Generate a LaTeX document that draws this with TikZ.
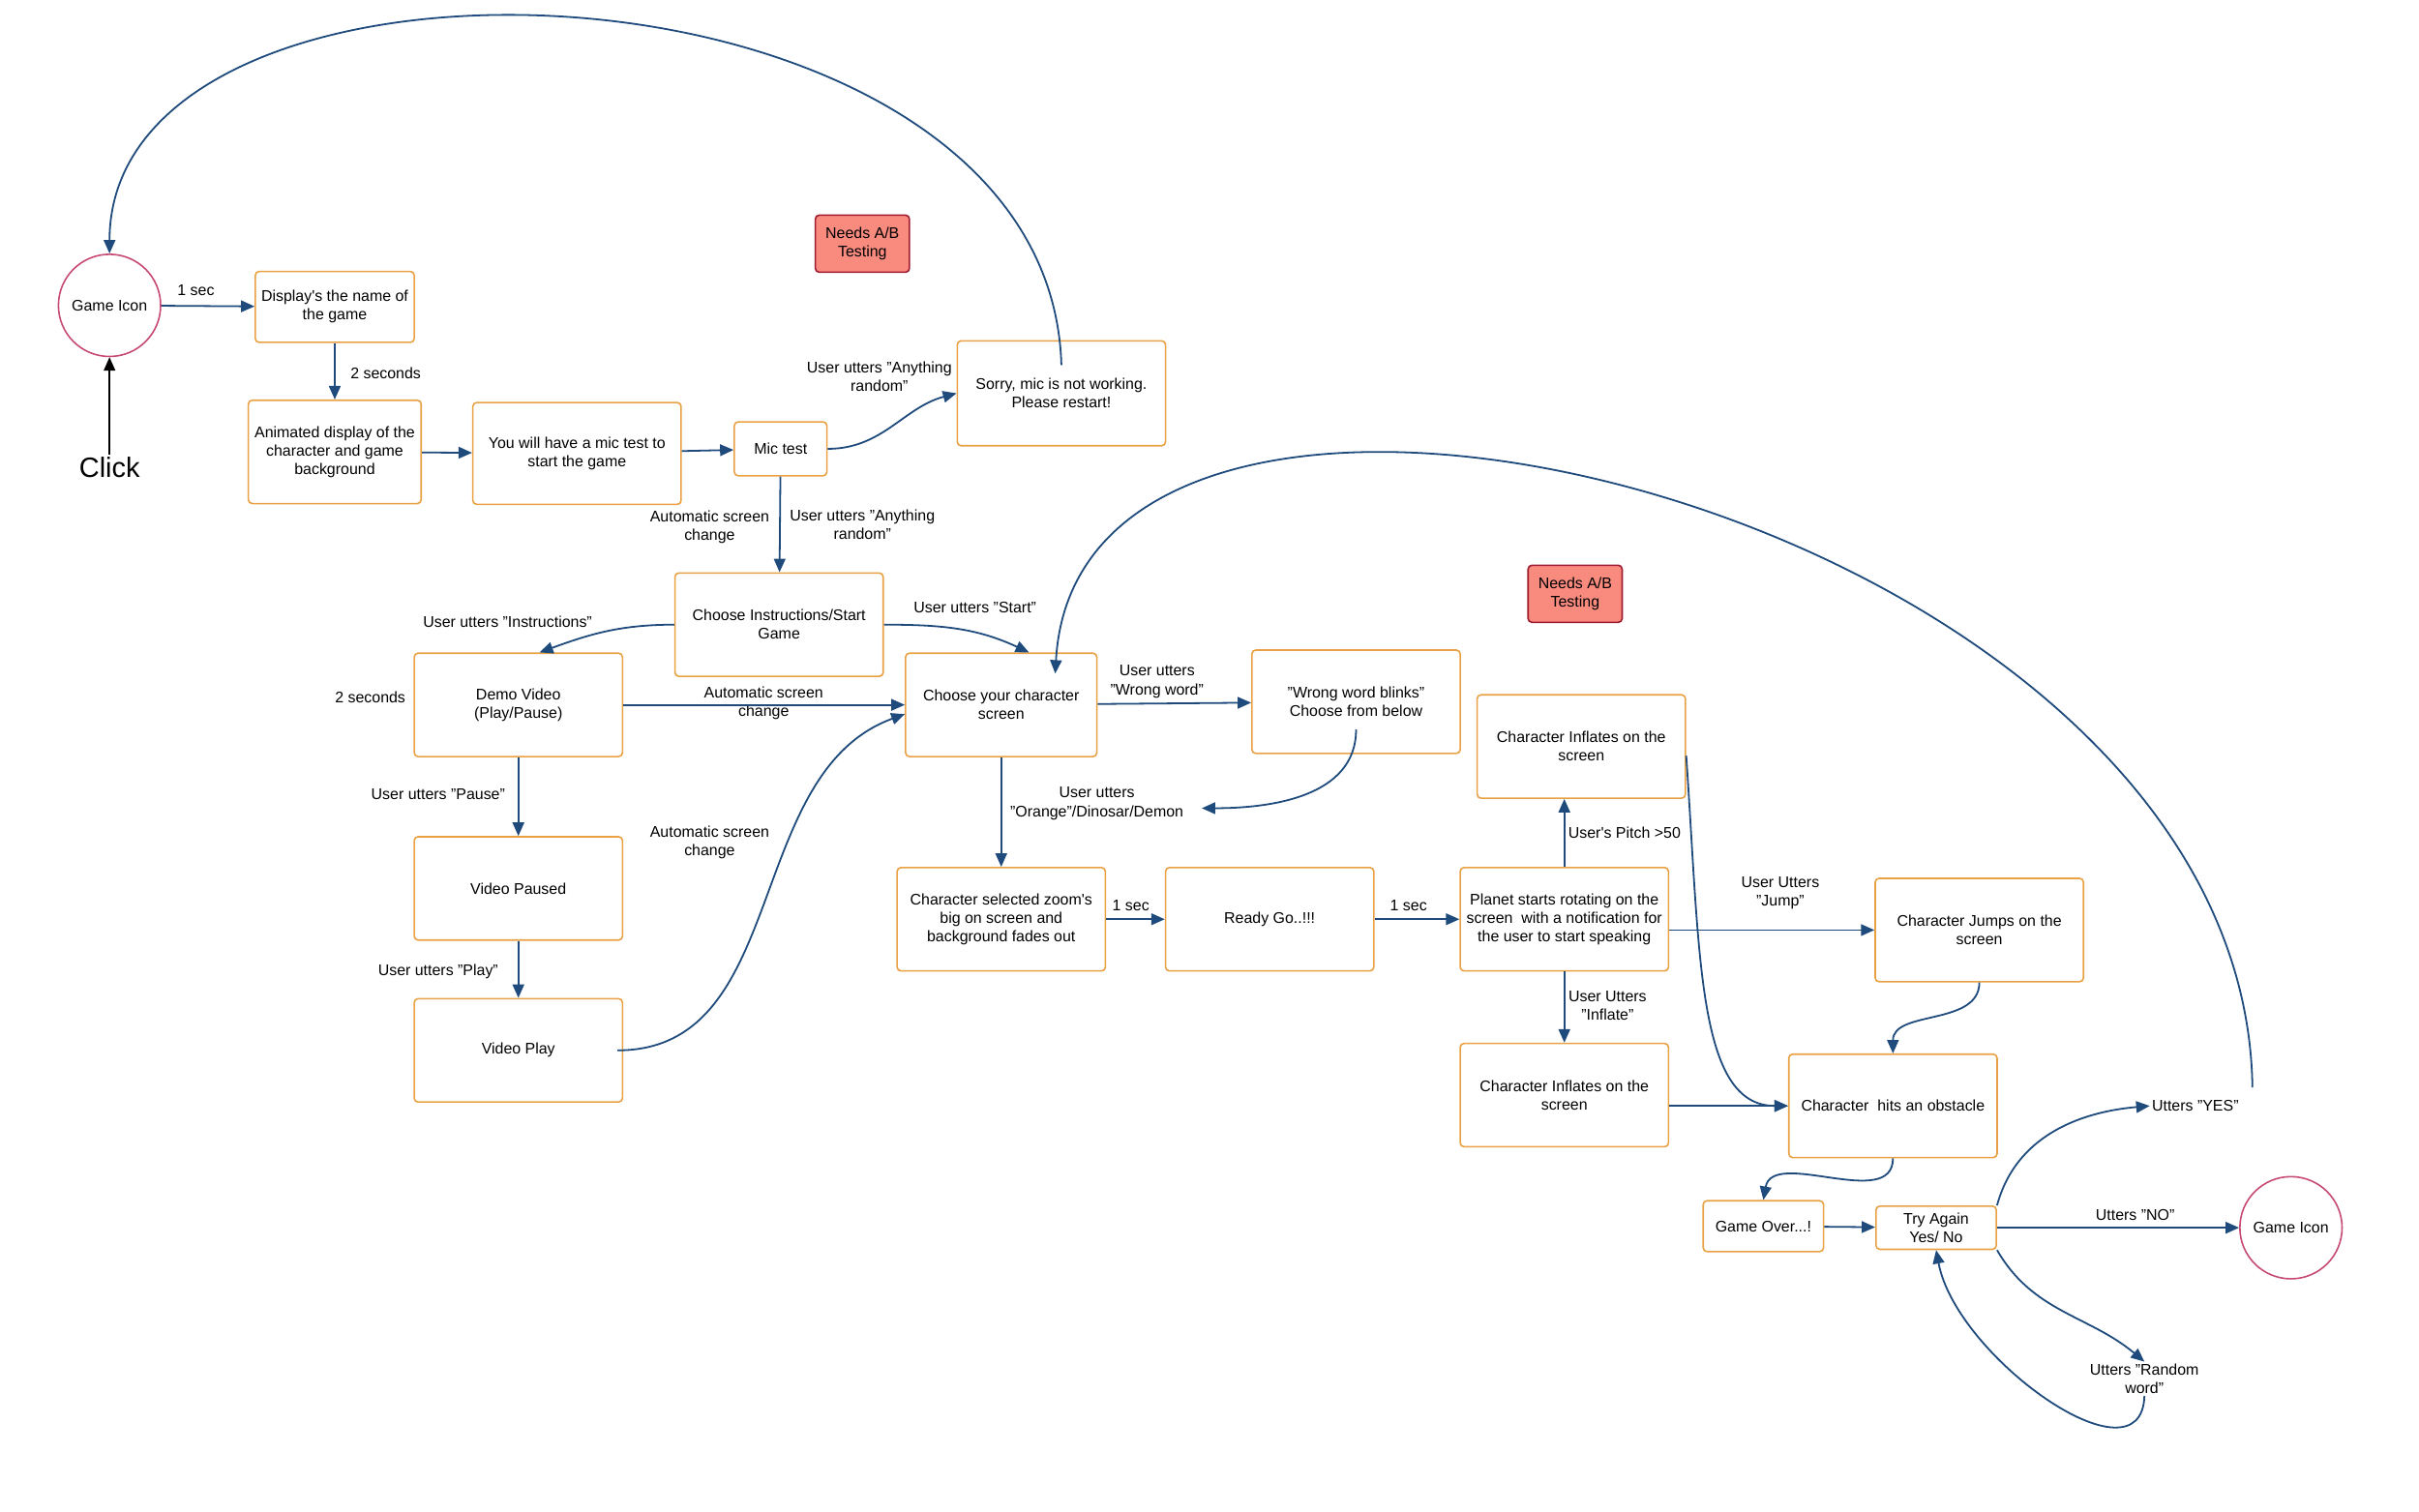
\documentclass[tikz,border=0pt]{standalone}
\usepackage{fontspec}
\setmainfont{Liberation Sans}
\usetikzlibrary{arrows.meta,calc}
\definecolor{boxorange}{HTML}{E9A144}
\definecolor{linkblue}{HTML}{1E4A7C}
\definecolor{iconpink}{HTML}{C64A74}
\definecolor{abfill}{HTML}{F88A7E}
\definecolor{abdraw}{HTML}{A01A30}

\begin{document}
\begin{tikzpicture}[x=0.8pt, y=-0.8pt,
    every node/.style={font=\fontsize{8}{9.6}\selectfont, align=center, inner sep=1pt},
    screen/.style={draw=boxorange, line width=0.8pt, rounded corners=2pt,
      minimum width=108pt, minimum height=53.6pt},
    icon/.style={circle, draw=iconpink, line width=0.8pt, minimum size=53pt},
    abnote/.style={draw=abdraw, fill=abfill, line width=0.8pt, rounded corners=2pt,
      minimum width=48.8pt, minimum height=29.6pt},
    link/.style={color=linkblue, line width=0.9pt, -{Triangle[length=7pt,width=6pt]}}]
  \useasboundingbox (0,0) rectangle (1568,980);

  % start of the game
  \node[icon] (gameicon) at (71,198) {Game Icon};
  \node[font=\fontsize{14.5}{16}\selectfont] (click) at (71,303) {Click};
  \node[screen, minimum width=82.4pt, minimum height=36.8pt] (dispname) at (217,199) {Display\textquotesingle s the name of\\the game};
  \node[screen, minimum width=89.6pt] (animated) at (217,293) {Animated display of the\\character and game\\background};
  \node[screen, minimum height=52.8pt] (mictestintro) at (374,294) {You will have a mic test to\\start the game};
  \node[screen, minimum width=48pt, minimum height=28pt] (mictest) at (506,291) {Mic test};
  \node[screen, minimum height=54.4pt] (sorry) at (688,255) {Sorry, mic is not working.\\Please restart!};
  \node[abnote] (abtestA) at (559,158) {Needs A/B\\Testing};

  % instructions and character choice
  \node[screen] (chooseinstr) at (505,405) {Choose Instructions/Start\\Game};
  \node[screen] (demo) at (336,457) {Demo Video\\(Play/Pause)};
  \node[screen] (paused) at (336,576) {Video Paused};
  \node[screen] (play) at (336,681) {Video Play};
  \node[screen, minimum width=99.2pt] (choosechar) at (649,457) {Choose your character\\screen};
  \node[screen] (wrongword) at (879,455) {"Wrong word blinks"\\Choose from below};
  \node[screen] (charsel) at (649,596) {Character selected zoom\textquotesingle s\\big on screen and\\background fades out};
  \node[screen] (ready) at (823,596) {Ready Go..!!!};

  % game play
  \node[screen] (planet) at (1014,596) {Planet starts rotating on the\\screen\ \ with a notification for\\the user to start speaking};
  \node[screen] (inflatetop) at (1025,484) {Character Inflates on the\\screen};
  \node[screen] (jumps) at (1283,603) {Character Jumps on the\\screen};
  \node[screen] (inflatebot) at (1014,710) {Character Inflates on the\\screen};
  \node[screen] (hits) at (1227,717) {Character\ \ hits an obstacle};
  \node[abnote] (abtestB) at (1021,385) {Needs A/B\\Testing};
  \node[screen, minimum width=62.4pt, minimum height=26.4pt] (gameover) at (1143,795) {Game Over...!};
  \node[screen, minimum width=62.4pt, minimum height=22.4pt, inner sep=0pt] (tryagain) at (1255,796) {Try Again\\Yes/ No};
  \node (uttersyes) at (1423,717) {Utters "YES"};
  \node[icon] (gameiconR) at (1485,796) {Game Icon};
  \node (uttersrandom) at (1390,894) {Utters "Random\\word"};
  \coordinate (orangetip) at (779,524);
  \coordinate (yesup) at (1460,705);

  % connector labels
  \node (lblOneSecA) at (127,188) {1 sec};
  \node (lblTwoSecA) at (250,242) {2 seconds};
  \node (lblAnyA) at (570,244) {User utters "Anything\\random"};
  \node (lblAutoA) at (460,342) {Automatic screen\\change};
  \node (lblAnyB) at (559,340) {User utters "Anything\\random"};
  \node (lblInstr) at (329,403) {User utters "Instructions"};
  \node (lblStart) at (632,394) {User utters "Start"};
  \node (lblTwoSecB) at (240,452) {2 seconds};
  \node (lblAutoB) at (495,456) {Automatic screen\\change};
  \node (lblPause) at (284,515) {User utters "Pause"};
  \node (lblPlay) at (284,630) {User utters "Play"};
  \node (lblAutoC) at (460,546) {Automatic screen\\change};
  \node (lblWrong) at (750,442) {User utters\\"Wrong word"};
  \node (lblOrange) at (711,521) {User utters\\"Orange"/Dinosar/Demon};
  \node (lblOneSecB) at (733,587) {1 sec};
  \node (lblOneSecC) at (913,587) {1 sec};
  \node (lblPitch) at (1053,540) {User\textquotesingle s Pitch >50};
  \node (lblJump) at (1154,579) {User Utters\\"Jump"};
  \node (lblInflate) at (1042,652) {User Utters\\"Inflate"};
  \node (lblNo) at (1384,788) {Utters "NO"};

  \draw[line width=0.8pt, -{Triangle[length=7pt,width=6pt]}] (click) -- (gameicon);
  \path[link]
    (gameicon) edge (dispname)
    (dispname) edge (animated)
    (animated) edge (mictestintro)
    (mictestintro) edge (mictest)
    (mictest.east) edge[out=0, in=195] (sorry.west)
    (mictest) edge (chooseinstr)
    (chooseinstr.west) edge[out=180, in=20] ([xshift=11pt]demo.north)
    (chooseinstr.east) edge[out=0, in=155] ([xshift=14.4pt]choosechar.north)
    (demo) edge (choosechar)
    (demo) edge (paused)
    (paused) edge (play)
    ([xshift=-3pt]play.east) edge[out=0, in=200] ([yshift=-4.8pt]choosechar.west)
    (choosechar) edge (wrongword)
    ([yshift=12.8pt]wrongword.south) edge[out=-90, in=0] (orangetip)
    (choosechar) edge (charsel)
    (charsel) edge (ready)
    (ready) edge (planet)
    (planet.north) edge (planet.north |- inflatetop.south)
    (planet.east |- jumps.west) edge (jumps.west)
    (planet) edge (inflatebot)
    (inflatebot.east |- hits.west) edge (hits.west)
    (jumps.south) edge[out=-90, in=90] (hits.north)
    (hits.south) edge[out=-90, in=80] (gameover.north)
    (gameover) edge (tryagain)
    (tryagain.north east) edge[out=75, in=185] (uttersyes.west)
    (tryagain) edge (gameiconR)
    (tryagain.south east) edge[out=-60, in=140] (uttersrandom.north);
  % long loops back
  \draw[link] (uttersrandom.south) .. controls (1388,965) and (1268,880) .. (tryagain.south);
  \draw[link] ([yshift=-13pt]sorry.north) .. controls (680,-40) and (71,-60) .. (gameicon.north);
  \draw[link] (yesup) .. controls (1455,330) and (700,150) .. ([xshift=28pt,yshift=-11pt]choosechar.north);
  \draw[link] ([yshift=-4.8pt]inflatetop.east) .. controls (1102,620) and (1100,717) .. (hits.west);
\end{tikzpicture}
\end{document}
